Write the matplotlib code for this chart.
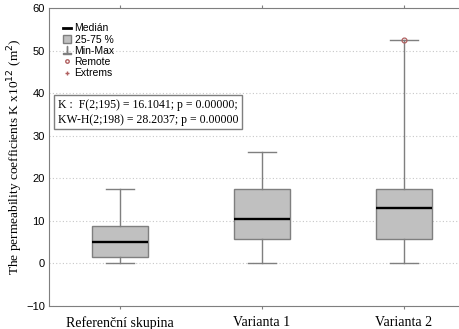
import matplotlib.pyplot as plt
from matplotlib.lines import Line2D
from matplotlib.patches import Patch

# data
groups = ["Referenční skupina", "Varianta 1", "Varianta 2"]
q1 = [1.6, 5.7, 5.7]
medians = [5.0, 10.4, 13.1]
q3 = [8.7, 17.4, 17.5]
mins = [0.0, 0.0, 0.0]
maxs = [17.6, 26.1, 52.6]
remote_x = [3]
remote_y = [52.6]
stats_text = "K :  F(2;195) = 16.1041; p = 0.00000;\nKW-H(2;198) = 28.2037; p = 0.00000"

fig = plt.figure(figsize=(4.6, 3.29), dpi=100)
ax = fig.add_axes([49/460, 23/329, 426/460, 298/329])

bxp_stats = []
for i in range(len(groups)):
    bxp_stats.append({"med": medians[i], "q1": q1[i], "q3": q3[i],
                      "whislo": mins[i], "whishi": maxs[i], "fliers": []})

ax.bxp(bxp_stats, positions=[1, 2, 3], widths=0.4, patch_artist=True,
       showfliers=False,
       boxprops=dict(facecolor="#c0c0c0", edgecolor="#7f7f7f", linewidth=1),
       whiskerprops=dict(color="#7f7f7f", linewidth=1),
       capprops=dict(color="#7f7f7f", linewidth=1),
       medianprops=dict(color="black", linewidth=1.7),
       capwidths=0.2)
ax.plot(remote_x, remote_y, "o", ms=3.5, mfc="none", mec="#b06060", mew=0.9, zorder=5)

ax.set_xlim(0.5, 3.5)
ax.set_ylim(-10, 60)
ax.set_yticks(range(-10, 61, 10))
ax.set_xticks([1, 2, 3])
ax.set_xticklabels(groups, family="Liberation Serif", fontsize=10)
for lab in ax.get_yticklabels():
    lab.set_family("Liberation Sans")
    lab.set_fontsize(8)
ax.tick_params(axis="y", length=0, pad=3)
ax.tick_params(axis="x", length=2, top=True, direction="out", color="#7f7f7f", pad=5)
ax.yaxis.grid(True, linestyle=(0, (1, 2)), color="#c8c8c8", linewidth=0.8)
ax.set_axisbelow(True)
for s in ax.spines.values():
    s.set_color("#7f7f7f")
ax.spines["right"].set_visible(False)

ax.set_ylabel(r"The permeability coefficients K x10$^{12}$ (m$^2$)",
              family="Liberation Serif", fontsize=9.6, labelpad=1)

handles = [Line2D([], [], color="black", lw=2),
           Patch(facecolor="#c0c0c0", edgecolor="#7f7f7f"),
           Line2D([], [], color="#7f7f7f", lw=0, marker="$\\perp$", ms=6),
           Line2D([], [], lw=0, marker="o", ms=2.5, mfc="none", mec="#b06060"),
           Line2D([], [], lw=0, marker="+", ms=3, color="#b06060")]
labels = ["Medián", "25-75 %", "Min-Max", "Remote", "Extrems"]
ax.legend(handles, labels, loc="upper left", bbox_to_anchor=(0.01, 0.98),
          frameon=False, handlelength=0.8, handletextpad=0.35,
          labelspacing=0.12, prop={"family": "Liberation Sans", "size": 7.5})

ax.text(0.02, 0.695, stats_text, transform=ax.transAxes, family="Liberation Serif",
        fontsize=8.5, va="top", ha="left", linespacing=1.3,
        bbox=dict(boxstyle="square,pad=0.3", facecolor="white", edgecolor="#7f7f7f"))

fig.savefig("out.png", dpi=100)
